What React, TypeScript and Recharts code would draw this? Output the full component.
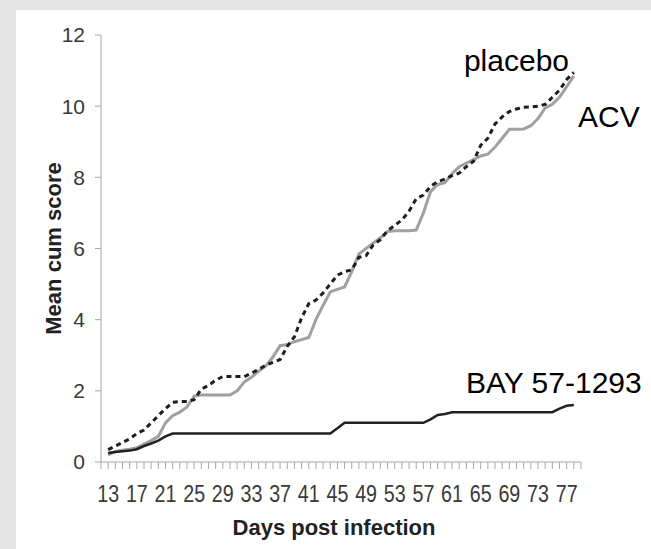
import React from 'react';
import { LineChart, Line, XAxis, YAxis, Label, Customized } from 'recharts';

const days = [13, 14, 15, 16, 17, 18, 19, 20, 21, 22, 23, 24, 25, 26, 27, 28, 29, 30, 31, 32, 33, 34, 35, 36, 37, 38, 39, 40, 41, 42, 43, 44, 45, 46, 47, 48, 49, 50, 51, 52, 53, 54, 55, 56, 57, 58, 59, 60, 61, 62, 63, 64, 65, 66, 67, 68, 69, 70, 71, 72, 73, 74, 75, 76, 77, 78];

const placebo = [0.35, 0.45, 0.55, 0.65, 0.8, 0.9, 1.1, 1.3, 1.5, 1.68,
  1.7, 1.7, 1.75, 2.05, 2.15, 2.3, 2.4, 2.4, 2.4, 2.4,
  2.5, 2.6, 2.72, 2.8, 2.88, 3.25, 3.52, 4.05, 4.45, 4.55,
  4.75, 5.0, 5.25, 5.35, 5.4, 5.75, 5.8, 6.1, 6.25, 6.5,
  6.65, 6.8, 7.05, 7.4, 7.5, 7.75, 7.88, 7.95, 8.05, 8.12,
  8.3, 8.45, 8.9, 9.1, 9.5, 9.7, 9.85, 9.92, 9.97, 9.98,
  10.0, 10.05, 10.25, 10.45, 10.75, 10.95];

const acv = [0.2, 0.3, 0.33, 0.36, 0.4, 0.5, 0.6, 0.72, 1.1, 1.3,
  1.4, 1.55, 1.85, 1.88, 1.88, 1.88, 1.88, 1.88, 2.0, 2.25,
  2.38, 2.55, 2.7, 2.95, 3.27, 3.3, 3.38, 3.44, 3.5, 4.0,
  4.4, 4.78, 4.85, 4.92, 5.35, 5.85, 6.0, 6.15, 6.3, 6.48,
  6.5, 6.5, 6.5, 6.52, 7.0, 7.6, 7.8, 7.85, 8.1, 8.3,
  8.4, 8.5, 8.6, 8.65, 8.85, 9.1, 9.35, 9.35, 9.36, 9.45,
  9.65, 9.95, 10.05, 10.25, 10.55, 10.85];

const bay = [0.25, 0.28, 0.3, 0.32, 0.36, 0.45, 0.52, 0.6, 0.72, 0.8,
  0.8, 0.8, 0.8, 0.8, 0.8, 0.8, 0.8, 0.8, 0.8, 0.8,
  0.8, 0.8, 0.8, 0.8, 0.8, 0.8, 0.8, 0.8, 0.8, 0.8,
  0.8, 0.8, 0.95, 1.1, 1.1, 1.1, 1.1, 1.1, 1.1, 1.1,
  1.1, 1.1, 1.1, 1.1, 1.1, 1.2, 1.32, 1.35, 1.4, 1.4,
  1.4, 1.4, 1.4, 1.4, 1.4, 1.4, 1.4, 1.4, 1.4, 1.4,
  1.4, 1.4, 1.4, 1.5, 1.58, 1.6];

const xAxisTicks = [12, ...days, 79];
const xTickLabels = ['13', '17', '21', '25', '29', '33', '37', '41', '45', '49', '53', '57', '61', '65', '69', '73', '77'];
const yTicks = [0, 2, 4, 6, 8, 10, 12];

const data = days.map((d, i) => ({ day: d, placebo: placebo[i], acv: acv[i], bay: bay[i] }));

const FONT = '"Liberation Sans", Arial, Helvetica, sans-serif';

const XTick = (props: any) => {
  const { x, y, payload } = props;
  const label = String(payload && payload.value);
  if (!xTickLabels.includes(label)) return null;
  return (
    <g transform={`translate(${x},${y})`}>
      <text
        x={0}
        y={0}
        dy="0.71em"
        textAnchor="middle"
        transform="scale(0.82,1)"
        fontSize={24}
        fill="#3a3a3a"
        fontFamily={FONT}
      >
        {label}
      </text>
    </g>
  );
};

const Annotations = () => (
  <g fontFamily={FONT} fontSize={30} fill="#000">
    <text x={569} y={70.5} textAnchor="end">placebo</text>
    <text x={578} y={127} textAnchor="start">ACV</text>
    <text x={466} y={393} textAnchor="start">BAY 57-1293</text>
  </g>
);

export default function App() {
  return (
    <div style={{ position: 'absolute', left: 0, top: 0, width: 651, height: 549, background: '#e3e3e3', overflow: 'hidden' }}>
      <div style={{ position: 'absolute', left: 16, top: 10, right: 0, bottom: 0, background: '#ffffff' }} />
      <div style={{ position: 'absolute', left: 0, top: 0 }}>
        <LineChart width={651} height={549} data={data} margin={{ top: 35, right: 70, bottom: 0, left: 0 }}>
          <XAxis
            type="number"
            dataKey="day"
            domain={[12, 79]}
            allowDataOverflow
            ticks={xAxisTicks}
            interval={0}
            tickSize={7}
            tickMargin={16}
            height={87}
            stroke="#a8a8a8"
            tick={<XTick />}
          >
            <Label
              value="Days post infection"
              position="insideBottom"
              offset={14}
              dx={-7}
              fontSize={22}
              fontWeight="bold"
              fill="#222"
              fontFamily={FONT}
            />
          </XAxis>
          <YAxis
            type="number"
            domain={[0, 12]}
            ticks={yTicks}
            interval={0}
            width={101}
            tickSize={6}
            tickMargin={10}
            stroke="#a8a8a8"
            tick={{ fontSize: 21, fill: '#3a3a3a', fontFamily: FONT }}
          >
            <Label
              content={(props: any) => {
                const vb = props.viewBox || { x: 0, y: 35, width: 101, height: 427 };
                const cy = vb.y + vb.height / 2;
                const cx = 53;
                return (
                  <text
                    x={cx}
                    y={cy}
                    transform={`rotate(-90 ${cx} ${cy})`}
                    textAnchor="middle"
                    dominantBaseline="central"
                    fontSize={22}
                    fontWeight="bold"
                    fill="#222"
                    fontFamily={FONT}
                  >
                    Mean cum score
                  </text>
                );
              }}
            />
          </YAxis>
          <Line type="linear" dataKey="acv" stroke="#a0a0a0" strokeWidth={3} dot={false} isAnimationActive={false} />
          <Line type="linear" dataKey="bay" stroke="#222" strokeWidth={2.5} dot={false} isAnimationActive={false} />
          <Line type="linear" dataKey="placebo" stroke="#1e1e1e" strokeWidth={3} strokeDasharray="5 4" dot={false} isAnimationActive={false} />
          <Customized component={Annotations} />
        </LineChart>
      </div>
    </div>
  );
}
